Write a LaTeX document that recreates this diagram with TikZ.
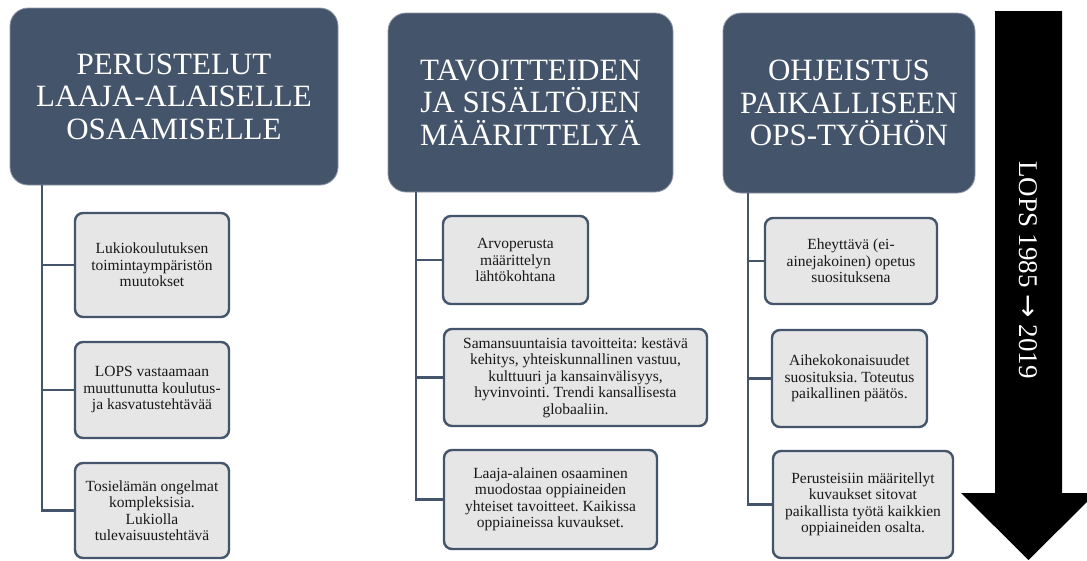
\documentclass[tikz,border=0pt]{standalone}
\usepackage{fontspec}
\setmainfont{Liberation Serif}
\newfontfamily\arrowfont{DejaVu Sans}
\frenchspacing
\definecolor{slate}{HTML}{44546A}
\definecolor{boxfill}{HTML}{E7E6E6}
\tikzset{
  header/.style={fill=slate, draw=slate!60!white, line width=0.8pt, rounded corners=18pt, text=white, align=center, inner sep=0pt,
    font=\fontsize{31}{32.5}\selectfont},
  child/.style={fill=boxfill, draw=slate, line width=2.4pt, rounded corners=8pt, align=center, inner sep=0pt, text=black!90,
    font=\fontsize{15.5}{16.5}\selectfont},
  link/.style={draw=slate, line width=2.6pt},
}
\begin{document}
\begin{tikzpicture}[x=1pt,y=-1pt]
\useasboundingbox (0,0) rectangle (1087,560);
\clip (0,0) rectangle (1087,560);
\fill[white] (0,0) rectangle (1087,560);

\coordinate (t1) at (42,185);
\coordinate (t2) at (416,192);
\coordinate (t3) at (748,193);

% headers
\node[header, minimum width=328pt, minimum height=177pt] (h1) at (174,96.5) {PERUSTELUT\\LAAJA-ALAISELLE\\OSAAMISELLE};
\node[header, minimum width=285pt, minimum height=179pt] (h2) at (530.5,102.5) {TAVOITTEIDEN\\JA SISÄLTÖJEN\\MÄÄRITTELYÄ};
\node[header, minimum width=252pt, minimum height=180pt] (h3) at (849,103) {OHJEISTUS\\PAIKALLISEEN\\OPS-TYÖHÖN};

% column 1
\node[child, minimum width=154pt, minimum height=104pt] (c11) at (152,265) {Lukiokoulutuksen\\toimintaympäristön\\muutokset};
\node[child, minimum width=154pt, minimum height=96pt] (c12) at (152,390) {LOPS vastaamaan\\muuttunutta koulutus-\\ja kasvatustehtävää};
\node[child, minimum width=154pt, minimum height=95pt] (c13) at (152,510.5) {Tosielämän ongelmat\\kompleksisia.\\Lukiolla\\tulevaisuustehtävä};

% column 2
\node[child, minimum width=145pt, minimum height=88pt] (c21) at (515.5,260) {Arvoperusta\\määrittelyn\\lähtökohtana};
\node[child, minimum width=263pt, minimum height=97pt] (c22) at (575.5,377.5) {Samansuuntaisia tavoitteita: kestävä\\kehitys, yhteiskunnallinen vastuu,\\kulttuuri ja kansainvälisyys,\\hyvinvointi. Trendi kansallisesta\\globaaliin.};
\node[child, minimum width=213pt, minimum height=99pt] (c23) at (550.5,499.5) {Laaja-alainen osaaminen\\muodostaa oppiaineiden\\yhteiset tavoitteet. Kaikissa\\oppiaineissa kuvaukset.};

% column 3
\node[child, minimum width=172pt, minimum height=86pt] (c31) at (851,261) {Eheyttävä (ei-\\ainejakoinen) opetus\\suosituksena};
\node[child, minimum width=155pt, minimum height=97pt] (c32) at (849.5,378.5) {Aihekokonaisuudet\\suosituksia. Toteutus\\paikallinen päätös.};
\node[child, minimum width=180pt, minimum height=107pt] (c33) at (863,504.5) {Perusteisiin määritellyt\\kuvaukset sitovat\\paikallista työtä kaikkien\\oppiaineiden osalta.};

% connectors
\draw[link] (t1) |- (c13.west);
\draw[link] (t1 |- c11.west) -- (c11.west);
\draw[link] (t1 |- c12.west) -- (c12.west);
\draw[link] (t2) |- (c23.west);
\draw[link] (t2 |- c21.west) -- (c21.west);
\draw[link] (t2 |- c22.west) -- (c22.west);
\draw[link] (t3) |- (c33.west);
\draw[link] (t3 |- c31.west) -- (c31.west);
\draw[link] (t3 |- c32.west) -- (c32.west);

% big arrow
\fill[black] (995,11) -- (1062,11) -- (1062,493) -- (1096,493) -- (1028.5,560) -- (961,493) -- (995,493) -- cycle;
\node[text=white, rotate=-90, font=\fontsize{27}{28}\selectfont, inner sep=0pt] (lops) at (1028.5,270) {LOPS 1985 {\arrowfont\fontsize{28}{28}\selectfont →} 2019};
\end{tikzpicture}
\end{document}
